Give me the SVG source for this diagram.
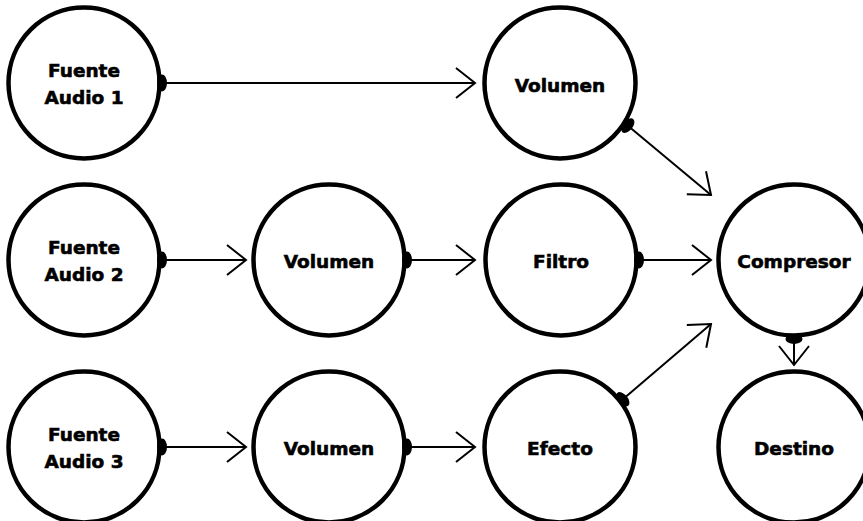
<svg xmlns="http://www.w3.org/2000/svg" width="863" height="521" viewBox="0 0 863 521">
<style>
.node circle{fill:#fff;stroke:#000;stroke-width:4.5}
.node text{font-family:"DejaVu Sans","Verdana",sans-serif;font-weight:bold;font-size:18.5px;text-anchor:middle;fill:#000;stroke:#000;stroke-width:0.6}
.edge{stroke:#000;stroke-width:2;fill:none;marker-start:url(#dot);marker-end:url(#arrow)}
</style>
<defs>
<marker id="arrow" markerUnits="userSpaceOnUse" viewBox="-22 -18 24 36" refX="0" refY="0" markerWidth="24" markerHeight="36" orient="auto" overflow="visible">
<path d="M-19,-15 L0,0 L-19,15" fill="none" stroke="#000" stroke-width="2"/>
</marker>
<marker id="dot" markerUnits="userSpaceOnUse" viewBox="-8 -10 16 20" refX="0" refY="0" markerWidth="16" markerHeight="20" orient="auto" overflow="visible">
<ellipse cx="1" cy="0" rx="5" ry="8.5" fill="#000"/>
</marker>
</defs>
<rect width="863" height="521" fill="#fff"/>
<g id="fuente1" class="node"><circle cx="84" cy="83" r="75.5"/><text x="84" y="77">Fuente</text><text x="84" y="103.5">Audio 1</text></g>
<g id="volumen1" class="node"><circle cx="560" cy="83" r="75.5"/><text x="560" y="92">Volumen</text></g>
<g id="fuente2" class="node"><circle cx="84" cy="260" r="75.5"/><text x="84" y="254">Fuente</text><text x="84" y="280.5">Audio 2</text></g>
<g id="volumen2" class="node"><circle cx="329" cy="260" r="75.5"/><text x="329" y="268">Volumen</text></g>
<g id="filtro" class="node"><circle cx="561" cy="260" r="75.5"/><text x="561" y="268">Filtro</text></g>
<g id="compresor" class="node"><circle cx="794" cy="260" r="75.5"/><text x="794" y="268">Compresor</text></g>
<g id="fuente3" class="node"><circle cx="84" cy="447" r="75.5"/><text x="84" y="441">Fuente</text><text x="84" y="467.5">Audio 3</text></g>
<g id="volumen3" class="node"><circle cx="329" cy="447" r="75.5"/><text x="329" y="455">Volumen</text></g>
<g id="efecto" class="node"><circle cx="560" cy="447" r="75.5"/><text x="560" y="455">Efecto</text></g>
<g id="destino" class="node"><circle cx="794" cy="447" r="75.5"/><text x="794" y="455">Destino</text></g>
<g id="connectors">
<line class="edge" x1="161" y1="83" x2="475" y2="83"/>
<line class="edge" x1="627" y1="125" x2="711" y2="195"/>
<line class="edge" x1="161" y1="260" x2="246" y2="260"/>
<line class="edge" x1="406" y1="260" x2="475" y2="260"/>
<line class="edge" x1="638" y1="260" x2="711" y2="260"/>
<line class="edge" x1="161" y1="447" x2="246" y2="447"/>
<line class="edge" x1="406" y1="447" x2="475" y2="447"/>
<line class="edge" x1="622" y1="400" x2="711" y2="324"/>
<line class="edge" x1="794" y1="338" x2="794" y2="365"/>
</g>
</svg>
